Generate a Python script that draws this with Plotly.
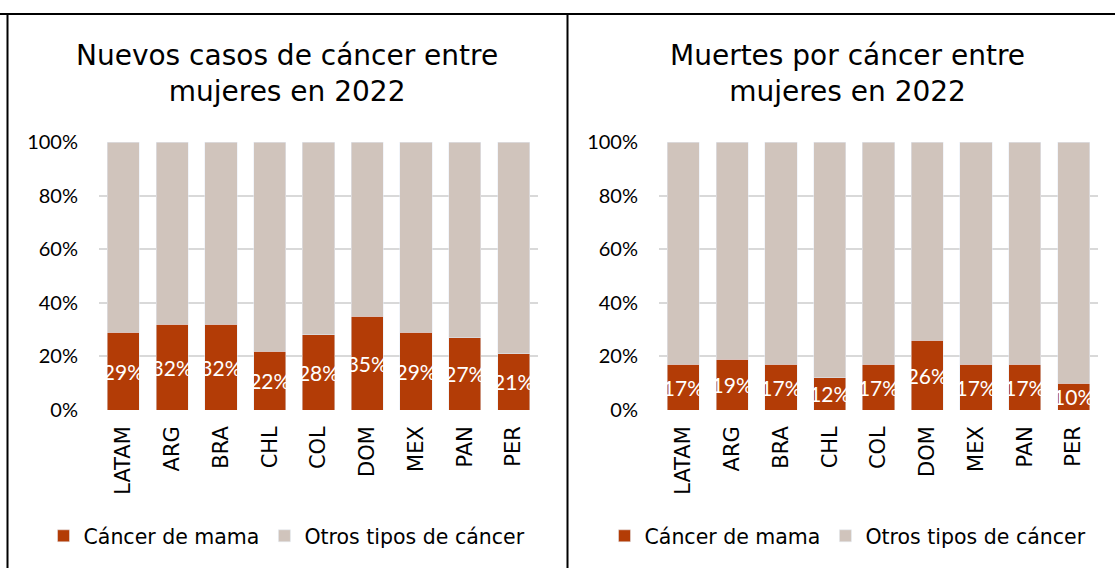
import plotly.graph_objects as go

categorias = ["LATAM", "ARG", "BRA", "CHL", "COL", "DOM", "MEX", "PAN", "PER"]
casos_mama = [0.29, 0.32, 0.32, 0.22, 0.28, 0.35, 0.29, 0.27, 0.21]
casos_otros = [0.71, 0.68, 0.68, 0.78, 0.72, 0.65, 0.71, 0.73, 0.79]
muertes_mama = [0.17, 0.19, 0.17, 0.12, 0.17, 0.26, 0.17, 0.17, 0.10]
muertes_otros = [0.83, 0.81, 0.83, 0.88, 0.83, 0.74, 0.83, 0.83, 0.90]
etiquetas_casos = ["29%", "32%", "32%", "22%", "28%", "35%", "29%", "27%", "21%"]
etiquetas_muertes = ["17%", "19%", "17%", "12%", "17%", "26%", "17%", "17%", "10%"]
titulos = ["Nuevos casos de cáncer entre<br>mujeres en 2022",
           "Muertes por cáncer entre<br>mujeres en 2022"]
serie_nombres = ["Cáncer de mama", "Otros tipos de cáncer"]

C_MAMA = "#B33C06"
C_OTROS = "#D0C4BC"
FONT_TXT = "DejaVu Sans"
FONT_NUM = "Lato"
W, H = 1115, 568

fig = go.Figure()

def add_panel(xa, ya, leg, mama, otros, labels):
    fig.add_trace(go.Bar(
        x=categorias, y=mama, name=serie_nombres[0], marker_color=C_MAMA,
        text=labels, textposition="inside", insidetextanchor="middle",
        textfont=dict(color="white", size=21, family=FONT_NUM),
        constraintext="none", textangle=0,
        xaxis=xa, yaxis=ya, legend=leg, hoverinfo="skip"))
    fig.add_trace(go.Bar(
        x=categorias, y=otros, name=serie_nombres[1], marker_color=C_OTROS,
        xaxis=xa, yaxis=ya, legend=leg, hoverinfo="skip"))

add_panel("x", "y", "legend", casos_mama, casos_otros, etiquetas_casos)
add_panel("x2", "y2", "legend2", muertes_mama, muertes_otros, etiquetas_muertes)

y_dom = [(H - 410) / H, (H - 142) / H]
axis_common_x = dict(tickangle=-90, tickfont=dict(size=21, family=FONT_TXT, color="black"),
                     showline=False, showgrid=False, ticks="", ticklabelstandoff=11,
                     automargin=False)
axis_common_y = dict(range=[0, 1], dtick=0.2, tickformat=".0%",
                     tickfont=dict(size=20, family=FONT_NUM, color="black"),
                     showgrid=True, gridcolor="#D9D9D9", gridwidth=1.5,
                     zeroline=False, showline=False, ticks="", ticklabelstandoff=20,
                     automargin=False)

leg_common = dict(orientation="h", y=(H - 536) / H, yanchor="middle", xanchor="center",
                  font=dict(size=20.5, family=FONT_TXT, color="black"), itemwidth=30,
                  traceorder="normal")

fig.update_layout(
    width=W, height=H,
    margin=dict(l=0, r=0, t=0, b=0, pad=0, autoexpand=False),
    paper_bgcolor="white", plot_bgcolor="white",
    barmode="stack", bargap=0.34,
    font=dict(family=FONT_TXT, color="black"),
    xaxis=dict(domain=[99 / W, 538 / W], anchor="y", **axis_common_x),
    xaxis2=dict(domain=[659 / W, 1098 / W], anchor="y2", **axis_common_x),
    yaxis=dict(domain=y_dom, anchor="x", **axis_common_y),
    yaxis2=dict(domain=y_dom, anchor="x2", **axis_common_y),
    legend=dict(x=287 / W, **leg_common),
    legend2=dict(x=848 / W, **leg_common),
    showlegend=True,
)

# titles
for cx, t in [(287, titulos[0]), (847, titulos[1])]:
    fig.add_annotation(text=t, xref="paper", yref="paper", x=cx / W, y=(H - 73) / H,
                       xanchor="center", yanchor="middle", showarrow=False,
                       font=dict(size=28, family=FONT_TXT, color="black"))

# panel borders
line = dict(color="black", width=2)
fig.add_shape(type="line", xref="paper", yref="paper", x0=0, x1=1,
              y0=(H - 14) / H, y1=(H - 14) / H, line=line)
fig.add_shape(type="line", xref="paper", yref="paper", x0=7.5 / W, x1=7.5 / W,
              y0=0, y1=(H - 14) / H, line=line)
fig.add_shape(type="line", xref="paper", yref="paper", x0=567.5 / W, x1=567.5 / W,
              y0=0, y1=(H - 14) / H, line=line)

fig.write_html("out.html", config={"displayModeBar": False},
               post_script="document.body.style.margin='0px';document.body.style.overflow='hidden';")
